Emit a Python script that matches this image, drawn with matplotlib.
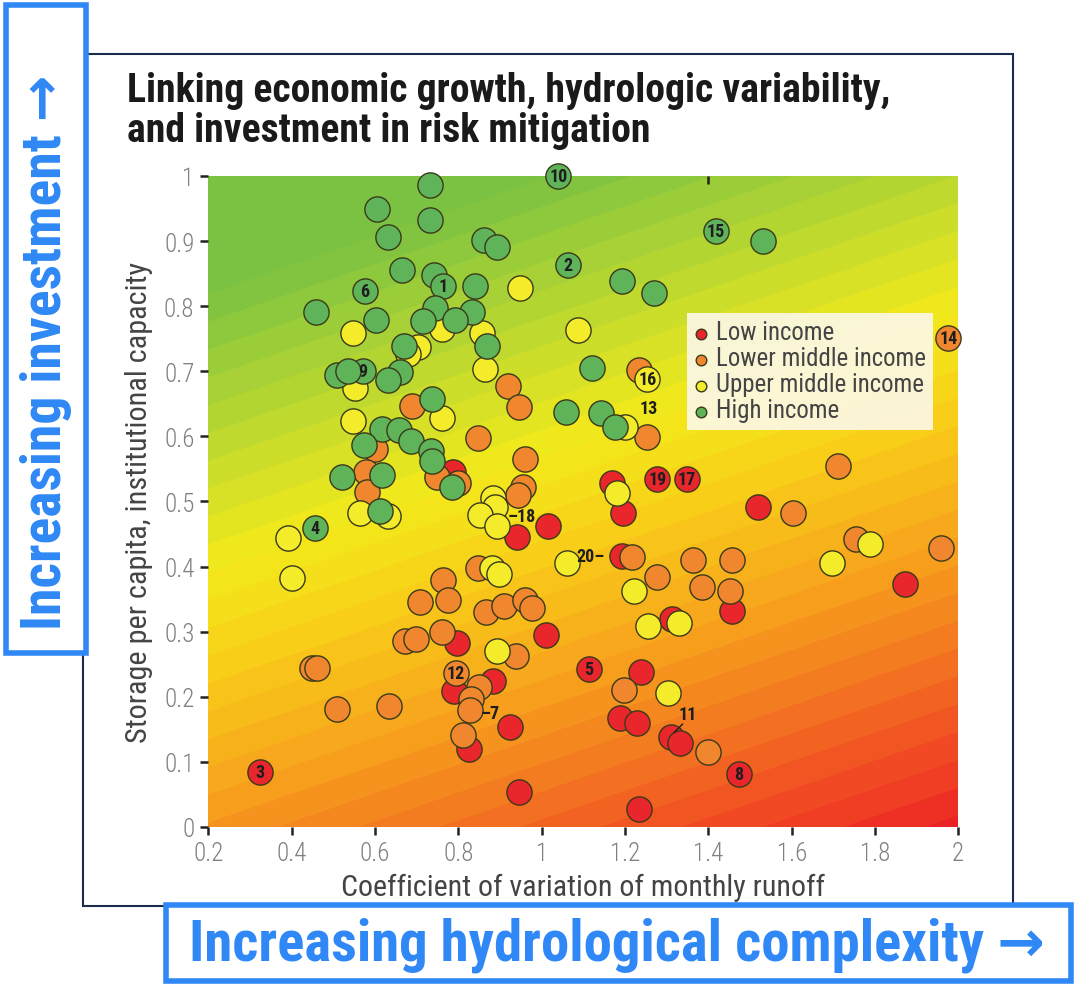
import numpy as np
import matplotlib
matplotlib.use("Agg")
import matplotlib.pyplot as plt
from matplotlib import font_manager
from matplotlib.colors import LinearSegmentedColormap
from matplotlib.patches import Rectangle

# ---- data ----
low_x = [0.787, 1.168, 1.278, 1.348, 1.196, 1.520, 1.872, 1.192, 1.458, 1.314,
         1.114, 1.238, 1.188, 1.230, 1.310, 1.332, 1.474, 1.234, 0.940, 1.016,
         1.010, 0.796, 0.884, 0.790, 0.924, 0.826, 0.324, 0.946]
low_y = [0.546, 0.528, 0.535, 0.535, 0.482, 0.492, 0.373, 0.416, 0.332, 0.320,
         0.242, 0.238, 0.168, 0.160, 0.138, 0.129, 0.081, 0.027, 0.445, 0.462,
         0.295, 0.283, 0.224, 0.209, 0.154, 0.120, 0.084, 0.054]

lmid_x = [0.920, 0.946, 0.690, 0.848, 0.960, 0.600, 0.578, 0.582, 0.748, 0.800,
          0.956, 0.944, 1.234, 1.976, 1.254, 1.712, 1.604, 1.754, 1.958, 1.216,
          1.364, 1.456, 1.276, 1.386, 1.452, 1.198, 1.400, 0.847, 0.763, 0.775,
          0.708, 0.866, 0.910, 0.960, 0.978, 0.672, 0.698, 0.762, 0.938, 0.450,
          0.460, 0.794, 0.850, 0.830, 0.828, 0.510, 0.634, 0.812]
lmid_y = [0.677, 0.645, 0.646, 0.597, 0.565, 0.581, 0.545, 0.515, 0.538, 0.528,
          0.523, 0.510, 0.702, 0.751, 0.599, 0.555, 0.483, 0.442, 0.429, 0.414,
          0.410, 0.410, 0.384, 0.368, 0.362, 0.211, 0.115, 0.398, 0.379, 0.349,
          0.346, 0.331, 0.339, 0.349, 0.337, 0.285, 0.289, 0.299, 0.262, 0.244,
          0.244, 0.236, 0.215, 0.196, 0.179, 0.181, 0.186, 0.142]

umid_x = [0.948, 0.548, 0.760, 0.856, 1.087, 0.704, 0.680, 0.864, 0.552, 0.762,
          0.548, 0.884, 0.888, 0.852, 0.892, 1.254, 1.200, 1.180, 1.788, 1.698,
          1.060, 1.222, 1.330, 1.256, 1.304, 0.392, 0.400, 0.564, 0.632, 0.882,
          0.898, 0.892]
umid_y = [0.828, 0.759, 0.765, 0.759, 0.763, 0.738, 0.726, 0.704, 0.675, 0.628,
          0.623, 0.505, 0.491, 0.480, 0.462, 0.688, 0.614, 0.513, 0.435, 0.406,
          0.405, 0.362, 0.313, 0.308, 0.206, 0.444, 0.383, 0.482, 0.478, 0.398,
          0.389, 0.270]

high_x = [0.732, 0.604, 0.732, 0.632, 0.862, 0.894, 1.040, 1.064, 0.664, 0.742,
          0.764, 0.840, 0.576, 0.458, 0.744, 0.832, 0.792, 0.715, 0.602, 0.670,
          0.868, 0.572, 0.508, 0.536, 0.660, 0.632, 0.738, 1.058, 1.120, 1.142,
          1.176, 0.616, 0.658, 0.686, 0.574, 0.734, 0.736, 0.616, 0.520, 0.784,
          0.612, 0.456, 1.418, 1.531, 1.194, 1.270]
high_y = [0.986, 0.949, 0.932, 0.907, 0.901, 0.891, 1.000, 0.864, 0.856, 0.848,
          0.831, 0.831, 0.823, 0.791, 0.797, 0.791, 0.778, 0.777, 0.778, 0.739,
          0.739, 0.700, 0.695, 0.701, 0.699, 0.687, 0.657, 0.638, 0.705, 0.636,
          0.615, 0.612, 0.610, 0.593, 0.587, 0.577, 0.562, 0.540, 0.537, 0.522,
          0.485, 0.459, 0.916, 0.900, 0.839, 0.820]

# numbered countries drawn inside their circles
inner_labels = ["1", "2", "3", "4", "5", "6", "8", "9", "10", "12", "14", "15", "16", "17", "19"]
inner_x = [0.764, 1.064, 0.324, 0.456, 1.114, 0.576, 1.474, 0.572, 1.040, 0.794,
           1.976, 1.418, 1.254, 1.348, 1.278]
inner_y = [0.831, 0.864, 0.084, 0.459, 0.242, 0.823, 0.081, 0.700, 1.000, 0.236,
           0.751, 0.916, 0.688, 0.535, 0.535]

# numbered countries labelled beside their circles
side_labels = ["13", "\u201318", "20\u2013", "\u20137", "11"]
side_x = [1.258, 0.952, 1.118, 0.876, 1.351]
side_y = [0.643, 0.477, 0.417, 0.175, 0.173]

categories = ["Low income", "Lower middle income", "Upper middle income", "High income"]
colors = ["#e8262b", "#f0872e", "#f4ec2a", "#5fb45a"]

x_ticks = [0.2, 0.4, 0.6, 0.8, 1, 1.2, 1.4, 1.6, 1.8, 2]
x_ticklabels = ["0.2", "0.4", "0.6", "0.8", "1", "1.2", "1.4", "1.6", "1.8", "2"]
y_ticks = [0, 0.1, 0.2, 0.3, 0.4, 0.5, 0.6, 0.7, 0.8, 0.9, 1]
y_ticklabels = ["0", "0.1", "0.2", "0.3", "0.4", "0.5", "0.6", "0.7", "0.8", "0.9", "1"]

# pick the narrowest sans that is installed
have = {f.name for f in font_manager.fontManager.ttflist}
narrow_name = "Liberation Sans"
for nm in ["Liberation Sans Narrow", "Roboto Condensed", "DejaVu Sans Condensed",
           "Open Sans Condensed", "Liberation Sans"]:
    if nm in have:
        narrow_name = nm
        break
narrow = [narrow_name, "DejaVu Sans"]
blue = "#2f88f5"

fig = plt.figure(figsize=(10.76, 9.87), dpi=100)
ax = fig.add_axes([0.1936, 0.1611, 0.6970, 0.6596])

# background: risk gradient (green top-left -> red bottom-right)
bg = LinearSegmentedColormap.from_list("risk", [
    (0.00, "#ec1d25"), (0.13, "#f04e23"), (0.26, "#f47c20"), (0.38, "#f7a41c"),
    (0.54, "#f8d018"), (0.66, "#f3ea1b"), (0.79, "#c8dc2c"), (1.00, "#7cc242")])
gx, gy = np.meshgrid(np.linspace(0.2, 2, 300), np.linspace(0, 1, 200))
gz = gy - 0.22 * (gx - 0.2)
ax.contourf(gx, gy, gz, levels=np.linspace(-0.42, 0.82, 30), cmap=bg, zorder=0, extend="both")

groups = [(low_x, low_y), (lmid_x, lmid_y), (umid_x, umid_y), (high_x, high_y)]
for (gxs, gys), lab, col in zip(groups, categories, colors):
    ax.scatter(gxs, gys, s=330, c=col, edgecolors="#3a3a1a", linewidths=1.0,
               zorder=3, label=lab, clip_on=False)

for t, x, y in zip(inner_labels, inner_x, inner_y):
    ax.text(x, y, t, ha="center", va="center", fontsize=13, fontweight="bold",
            color="#1e1e1e", family=narrow, zorder=5)
for t, x, y in zip(side_labels, side_x, side_y):
    ax.text(x, y, t, ha="center", va="center", fontsize=13, fontweight="bold",
            color="#1e1e1e", family=narrow, zorder=5)
ax.plot([1.338, 1.318], [0.158, 0.145], color="#1e1e1e", lw=1, zorder=5)

ax.set_xlim(0.2, 2)
ax.set_ylim(0, 1)
ax.set_xticks(x_ticks)
ax.set_xticklabels(x_ticklabels)
ax.set_yticks(y_ticks)
ax.set_yticklabels(y_ticklabels)
for s in ax.spines.values():
    s.set_visible(False)
ax.tick_params(length=6, width=1.8, color="#222222", labelsize=18, labelcolor="#808080", pad=4)
for lbl in ax.get_xticklabels() + ax.get_yticklabels():
    lbl.set_family(narrow)
    lbl.set_fontweight("light")

# lone tick mark on the top edge
top = ax.secondary_xaxis("top")
top.set_xticks([1.4])
top.set_xticklabels([""])
top.tick_params(length=6, width=1.8, color="#222222", direction="in")
top.spines["top"].set_visible(False)

xl = ax.set_xlabel("Coefficient of variation of monthly runoff", fontsize=17, color="#444444",
                   family=narrow, labelpad=6)
yl = ax.set_ylabel("Storage per capita, institutional capacity", fontsize=17, color="#444444",
                   family=narrow, labelpad=8)

leg = ax.legend(loc="upper left", bbox_to_anchor=(0.638, 0.79),
                markerscale=0.42, handlelength=0.7, handletextpad=0.35, borderpad=0.35,
                labelspacing=0.1, borderaxespad=0.0,
                frameon=True, fancybox=False, prop={"family": narrow, "size": 15})
leg.get_frame().set_facecolor("#fcf8ea")
leg.get_frame().set_alpha(0.9)
leg.get_frame().set_edgecolor("none")
leg.set_zorder(6)
for t in leg.get_texts():
    t.set_color("#444444")

title = fig.text(127 / 1076, 1 - 111 / 987,
                 "Linking economic growth, hydrologic variability,\nand investment in risk mitigation",
                 fontsize=25, fontweight="bold", color="#1a1a1a", family=narrow,
                 va="center", ha="left", linespacing=1.1)

# outer frame of the panel
fig.patches.append(Rectangle((83 / 1076, 1 - 907 / 987), 930 / 1076, 852 / 987,
                             transform=fig.transFigure, fill=False,
                             edgecolor="#1b2b4c", lw=1.5, zorder=1))

# blue callout boxes
fig.patches.append(Rectangle((6 / 1076, 1 - 654 / 987), 80 / 1076, 648 / 987,
                             transform=fig.transFigure, facecolor="white",
                             edgecolor=blue, lw=4, zorder=2))
fig.patches.append(Rectangle((166 / 1076, 1 - 982 / 987), 905 / 1076, 76 / 987,
                             transform=fig.transFigure, facecolor="white",
                             edgecolor=blue, lw=4, zorder=2))
left_txt = fig.text(46 / 1076, 1 - 352 / 987, "Increasing investment \u2192", rotation=90,
                    fontsize=35, fontweight="bold", color=blue, family=narrow,
                    ha="center", va="center", zorder=3)
bottom_txt = fig.text(617 / 1076, 1 - 945 / 987, "Increasing hydrological complexity \u2192",
                      fontsize=35, fontweight="bold", color=blue, family=narrow,
                      ha="center", va="center", zorder=3)

# scale the texts so that they span the same widths as in the original
renderer = fig.canvas.get_renderer()


def fit(artist, target, along="w"):
    bb = artist.get_window_extent(renderer)
    size = bb.width if along == "w" else bb.height
    artist.set_fontsize(artist.get_fontsize() * target / size)


fit(title, 765)
fit(bottom_txt, 855)
fit(left_txt, 556, along="h")
fit(xl, 483)
fit(yl, 482, along="h")
longest = max(leg.get_texts(), key=lambda t: t.get_window_extent(renderer).width)
scale = 210 / longest.get_window_extent(renderer).width
for t in leg.get_texts():
    t.set_fontsize(t.get_fontsize() * scale)

fig.savefig("out.png", dpi=100)
